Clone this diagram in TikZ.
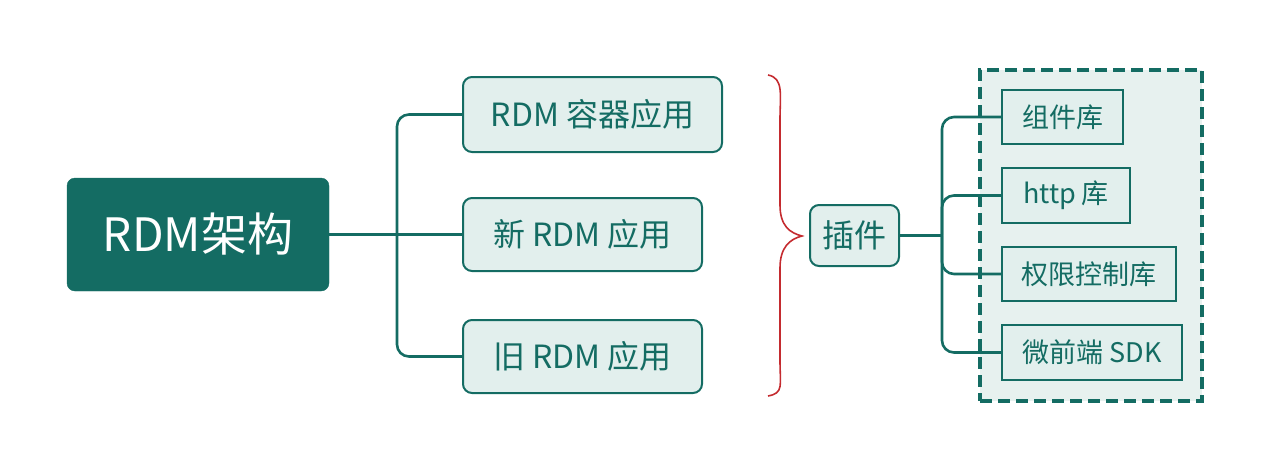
\documentclass[tikz,border=0pt]{standalone}
\usepackage{fontspec}
\newfontfamily\cjk{Noto Sans CJK SC}
\definecolor{teal1}{HTML}{146C63}
\definecolor{lite}{HTML}{E2EFED}
\definecolor{cont}{HTML}{E7F1EF}
\definecolor{bracered}{HTML}{C42B2F}
\tikzset{
  rootbox/.style={fill=teal1,draw=teal1,rounded corners=8pt,text=white,inner sep=0pt,font=\cjk\fontsize{46}{50}\selectfont},
  appbox/.style={fill=lite,draw=teal1,line width=2pt,rounded corners=9pt,text=teal1,inner sep=0pt,font=\cjk\fontsize{32}{36}\selectfont},
  libbox/.style={fill=lite,draw=teal1,line width=1.8pt,text=teal1,inner sep=0pt,font=\cjk\fontsize{27}{31}\selectfont},
  container/.style={fill=cont,draw=teal1,line width=3.8pt,dash pattern=on 12pt off 6pt,inner sep=0pt},
  conn/.style={draw=teal1,line width=2.6pt,rounded corners=12pt},
}
\begin{document}
\begin{tikzpicture}[x=1pt,y=-1pt]
\useasboundingbox (0,0) rectangle (1270,469);
\node[container,minimum width=222pt,minimum height=331pt] (box) at (1091,235.5) {};
\node[rootbox,minimum width=262pt,minimum height=113pt] (root) at (198,234.5) {RDM架构};
\node[appbox,minimum width=259pt,minimum height=75pt] (b1) at (592.5,114.5) {RDM 容器应用};
\node[appbox,minimum width=239pt,minimum height=73pt] (b2) at (582.5,234.5) {新 RDM 应用};
\node[appbox,minimum width=239pt,minimum height=73pt] (b3) at (582.5,356.5) {旧 RDM 应用};
\node[appbox,minimum width=89pt,minimum height=61pt,font=\cjk\fontsize{32}{36}\selectfont] (p) at (854.5,235.5) {插件};
\coordinate (j1) at (397,234.5);
\coordinate (j2) at (942,235.5);
\draw[conn] (root.east) -- (b2.west);
\draw[conn] (b1.west) -| (j1) |- (b3.west);
\draw[conn] (p.east) -- (j2);
\node[libbox,minimum width=121pt,minimum height=54pt] (c1) at (1062.5,117) {组件库};
\node[libbox,minimum width=128pt,minimum height=55pt] (c2) at (1066,195.5) {http 库};
\node[libbox,minimum width=174pt,minimum height=54pt] (c3) at (1089,274) {权限控制库};
\node[libbox,minimum width=180pt,minimum height=55pt] (c4) at (1092,352.5) {微前端 SDK};
\draw[conn] (c1.west) -| (j2) |- (c4.west);
\draw[conn] (j2) |- (c2.west);
\draw[conn] (j2) |- (c3.west);
\draw[bracered,line width=1.6pt] (768,75) .. controls (784,78) and (780,95) .. (780,120) -- (780,205) .. controls (780,226) and (790,233) .. (802,236) .. controls (790,239) and (780,247) .. (780,268) -- (780,360) .. controls (780,386) and (784,393) .. (768,396);
\end{tikzpicture}
\end{document}
